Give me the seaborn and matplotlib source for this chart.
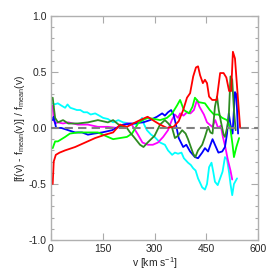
import numpy as np
import pandas as pd
import matplotlib
matplotlib.use("Agg")
import matplotlib.pyplot as plt
from matplotlib.ticker import MultipleLocator
import seaborn as sns

sns.set_style("ticks")
plt.rcParams["font.family"] = ["Liberation Sans", "DejaVu Sans"]
plt.rcParams["mathtext.default"] = "regular"

# velocity samples [km/s] and relative deviations for each curve
red_v = [5, 8, 14, 25, 41, 70, 99, 128, 157, 180, 200, 220, 238, 258, 280, 300, 316, 336, 355, 370,
         383, 394, 403, 412, 420, 426, 432, 440, 446, 452, 458, 467, 480, 490, 500, 508, 516, 522, 527,
         533, 539, 548]
red_f = [-0.50, -0.30, -0.24, -0.22, -0.20, -0.17, -0.13, -0.09, -0.06, -0.04, 0.03, 0.01, 0.04, 0.07,
         0.10, 0.06, 0.03, 0.00, 0.01, 0.06, 0.16, 0.27, 0.31, 0.46, 0.54, 0.55, 0.47, 0.40, 0.43, 0.40,
         0.28, 0.25, 0.25, 0.49, 0.49, 0.45, 0.33, 0.33, 0.68, 0.62, 0.37, 0.00]

green_v = [5, 12, 20, 41, 55, 78, 107, 136, 165, 180, 200, 220, 235, 252, 265, 281, 300, 316, 336, 351,
           365, 374, 385, 400, 410, 417, 428, 446, 460, 472, 485, 496, 510, 519, 526, 530, 537, 545]
green_f = [-0.18, -0.12, -0.12, -0.08, -0.05, -0.04, -0.04, -0.04, -0.08, -0.10, -0.09, -0.08, -0.05,
           0.04, 0.07, 0.09, 0.08, 0.07, 0.09, 0.13, 0.20, 0.25, 0.16, 0.13, 0.19, 0.27, 0.23, 0.22, 0.16,
           0.12, 0.12, 0.09, 0.07, 0.01, -0.15, -0.26, -0.17, -0.09]

dkgreen_v = [5, 12, 20, 35, 50, 78, 107, 136, 165, 180, 200, 220, 229, 240, 258, 268, 280, 290, 300, 316,
             330, 340, 351, 359, 368, 380, 390, 397, 412, 418, 426, 438, 446, 455, 462, 468, 475, 481, 486,
             492, 500, 504, 510, 515, 520, 525, 530, 535]
dkgreen_f = [0.27, 0.09, 0.05, 0.07, 0.04, 0.04, 0.05, 0.07, 0.05, 0.07, 0.02, 0.00, -0.04, -0.08, -0.15,
             -0.17, -0.13, -0.10, -0.07, 0.03, 0.07, 0.04, 0.00, -0.09, -0.07, -0.02, -0.05, -0.10, -0.23,
             -0.26, -0.20, -0.15, -0.08, 0.01, -0.04, -0.05, 0.19, 0.28, 0.16, 0.06, -0.06, -0.08, 0.00,
             0.10, 0.46, 0.43, 0.16, -0.02]

blue_v = [5, 8, 15, 30, 50, 70, 90, 107, 125, 148, 177, 195, 209, 238, 267, 287, 307, 322, 330, 339, 348,
          355, 362, 370, 383, 392, 403, 417, 426, 438, 446, 455, 462, 468, 475, 485, 496, 504, 510, 515,
          520, 526, 533, 537, 542]
blue_f = [0.07, 0.10, 0.00, 0.00, -0.02, -0.04, -0.04, -0.06, -0.05, -0.04, -0.02, 0.01, 0.03, 0.04, 0.05,
          0.07, 0.10, 0.13, 0.11, 0.14, 0.16, 0.12, 0.03, -0.09, -0.17, -0.15, -0.21, -0.26, -0.27, -0.22,
          -0.18, -0.21, -0.15, -0.10, -0.15, -0.22, -0.21, -0.17, -0.05, 0.13, 0.03, -0.05, 0.32, 0.30,
          -0.05]

magenta_v = [5, 8, 12, 20, 35, 50, 78, 107, 136, 165, 191, 220, 232, 240, 252, 265, 281, 295, 310, 325,
             339, 350, 359, 368, 374, 384, 394, 404, 414, 423, 430, 443, 452, 467, 476, 484, 492, 498, 505,
             512, 520, 525]
magenta_f = [0.20, 0.07, 0.04, 0.05, 0.04, 0.05, 0.03, 0.03, 0.01, 0.01, 0.00, 0.04, 0.04, 0.00, -0.06,
             -0.13, -0.15, -0.15, -0.13, -0.08, -0.02, 0.07, 0.12, 0.09, 0.13, 0.11, 0.14, 0.13, 0.16, 0.25,
             0.19, 0.12, 0.05, 0.01, 0.07, 0.00, 0.02, -0.08, -0.17, -0.28, -0.38, -0.46]

cyan_v = [5, 10, 20, 30, 41, 48, 56, 66, 75, 85, 95, 105, 115, 128, 140, 151, 165, 180, 195, 209, 230,
          249, 264, 270, 278, 290, 300, 316, 330, 339, 351, 359, 368, 378, 385, 397, 405, 412, 419, 426,
          438, 446, 452, 458, 465, 470, 475, 483, 490, 497, 504, 510, 516, 520, 525, 530, 539]
cyan_f = [0.22, 0.21, 0.22, 0.20, 0.18, 0.21, 0.18, 0.17, 0.16, 0.16, 0.14, 0.14, 0.12, 0.13, 0.11, 0.09,
          0.08, 0.05, 0.07, 0.05, 0.04, 0.03, 0.09, 0.03, -0.02, -0.06, -0.08, -0.13, -0.15, -0.20, -0.24,
          -0.22, -0.23, -0.22, -0.27, -0.31, -0.33, -0.36, -0.38, -0.45, -0.53, -0.55, -0.50, -0.35, -0.31,
          -0.39, -0.48, -0.51, -0.45, -0.39, -0.26, -0.28, -0.40, -0.50, -0.60, -0.50, -0.45]

x_ticks = [0, 150, 300, 450, 600]
x_labels = ["0", "150", "300", "450", "600"]
y_ticks = [-1.0, -0.5, 0.0, 0.5, 1.0]
y_labels = ["-1.0", "-0.5", "0.0", "0.5", "1.0"]

series = [
    (cyan_v, cyan_f, "#00ffff"),
    (magenta_v, magenta_f, "#ff00ff"),
    (blue_v, blue_f, "#0000ff"),
    (green_v, green_f, "#00ff00"),
    (dkgreen_v, dkgreen_f, "#2e8b22"),
    (red_v, red_f, "#ff0000"),
]

fig = plt.figure(figsize=(2.74, 2.74), dpi=100)
ax = fig.add_axes([0.186, 0.124, 0.756, 0.818])

for v, f, c in series:
    sns.lineplot(x=v, y=f, color=c, lw=1.3, ax=ax, sort=False)

ax.axhline(0, color="#808080", lw=1.5, ls=(0, (4, 2.5)), zorder=5)

ax.set_xlim(0, 600)
ax.set_ylim(-1, 1)
ax.set_xticks(x_ticks)
ax.set_xticklabels(x_labels)
ax.set_yticks(y_ticks)
ax.set_yticklabels(y_labels)
ax.yaxis.set_minor_locator(MultipleLocator(0.1))
ax.tick_params(which="both", direction="in", top=True, right=True, color="#aaaaaa",
               labelsize=7.5, pad=3)
ax.tick_params(which="major", length=5, width=0.8)
ax.tick_params(which="minor", length=2.5, width=0.8)
for s in ax.spines.values():
    s.set_color("#b0b0b0")
    s.set_linewidth(1.0)

ax.set_xlabel("v [km s$^{-1}$]", fontsize=7.5, labelpad=1)
ax.set_ylabel("[f(v) - f$_{mean}$(v)] / f$_{mean}$(v)", fontsize=7.5, labelpad=1)

fig.savefig("out.png", dpi=100)
